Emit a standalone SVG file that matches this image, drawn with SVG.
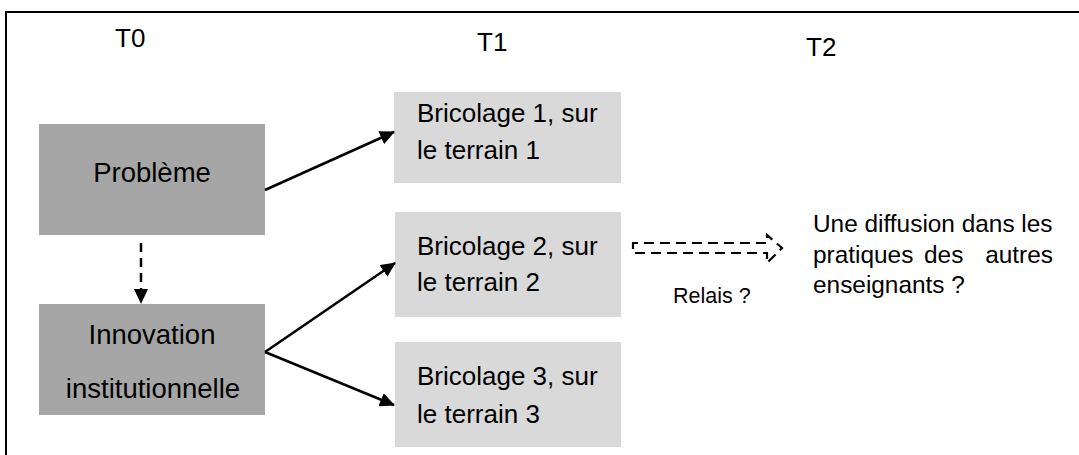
<svg xmlns="http://www.w3.org/2000/svg" width="1079" height="455" viewBox="0 0 1079 455">
<style>
text{font-family:"Liberation Sans",Arial,sans-serif;fill:#000}
.dark{fill:#a6a6a6}
.light{fill:#d9d9d9}
.t{font-size:26px}
.n{font-size:27.5px}
.b{font-size:26px}
.r{font-size:24.4px}
.c{stroke:#000;stroke-width:2.5;fill:none}
</style>
<defs>
<marker id="ah" markerWidth="15" markerHeight="14" refX="14" refY="7" orient="auto" markerUnits="userSpaceOnUse" viewBox="0 0 15 14">
<path d="M0,0 L15,7 L0,14 Z" fill="#000"/>
</marker>
</defs>
<rect x="0" y="0" width="1079" height="455" fill="#fff"/>
<rect x="6" y="12" width="1200" height="600" fill="none" stroke="#000" stroke-width="2"/>
<g id="labels">
<text class="t" x="115" y="47">T0</text>
<text class="t" x="477" y="51">T1</text>
<text class="t" x="806" y="56">T2</text>
</g>
<g id="probleme">
<rect class="dark" x="39" y="124" width="226" height="111"/>
<text class="n" x="152" y="182" text-anchor="middle">Problème</text>
</g>
<g id="innovation">
<rect class="dark" x="39" y="304" width="226" height="111"/>
<text class="n" x="152" y="344" text-anchor="middle">Innovation</text>
<text class="n" x="153" y="398" text-anchor="middle">institutionnelle</text>
</g>
<g id="bricolage1">
<rect class="light" x="394" y="92" width="227" height="91"/>
<text class="b" x="417" y="122">Bricolage 1, sur</text>
<text class="b" x="417" y="159">le terrain 1</text>
</g>
<g id="bricolage2">
<rect class="light" x="395" y="212" width="226" height="105"/>
<text class="b" x="417" y="255">Bricolage 2, sur</text>
<text class="b" x="417" y="291">le terrain 2</text>
</g>
<g id="bricolage3">
<rect class="light" x="395" y="342" width="226" height="105"/>
<text class="b" x="417" y="385">Bricolage 3, sur</text>
<text class="b" x="417" y="423">le terrain 3</text>
</g>
<g id="relais-label">
<text x="673" y="303" style="font-size:21.5px">Relais ?</text>
</g>
<g id="diffusion">
<text class="r" x="813" y="232">Une diffusion dans les</text>
<text class="r" y="263"><tspan x="813">pratiques</tspan><tspan x="924">des</tspan><tspan x="1053" text-anchor="end">autres</tspan></text>
<text class="r" x="813" y="293">enseignants ?</text>
</g>
<g id="connectors">
<line class="c" x1="265" y1="190" x2="394" y2="132" marker-end="url(#ah)"/>
<line class="c" x1="265" y1="352" x2="395" y2="263" marker-end="url(#ah)"/>
<line class="c" x1="265" y1="352" x2="394" y2="405" marker-end="url(#ah)"/>
<line class="c" x1="141" y1="243" x2="141" y2="303" stroke-width="2" stroke-dasharray="9,6" marker-end="url(#ah)"/>
<path d="M633,248 L633,243 L767,243 L767,235 L782,248 L767,263 L767,253 L633,253 Z" fill="none" stroke="#000" stroke-width="2.2" stroke-dasharray="10,6"/>
</g>
</svg>
